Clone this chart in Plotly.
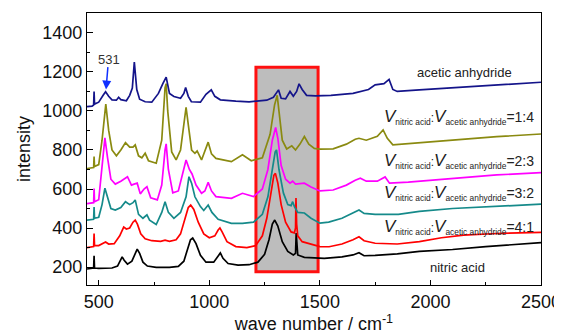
import plotly.graph_objects as go

# ---- data ----
black_x = [447,470,477,479,481,500,560,585,600,606,615,630,650,665,674,685,700,720,760,820,860,885,900,915,925,940,960,985,1020,1040,1050,1062,1085,1130,1180,1220,1250,1270,1285,1296,1310,1330,1355,1380,1390,1393,1396,1400,1430,1470,1520,1600,1650,1677,1700,1750,1850,1950,2100,2250,2400,2500]
black_y = [190,192,195,258,195,193,195,205,240,252,235,215,230,270,292,270,225,205,198,198,203,230,290,340,349,320,260,225,225,255,272,245,218,210,212,225,265,340,420,441,410,330,280,262,270,374,300,262,250,246,244,252,262,273,258,260,268,280,290,305,315,325]

red_x = [447,470,477,479,481,500,520,531,545,570,595,613,625,640,655,665,675,690,710,740,780,800,820,850,870,890,905,916,930,950,975,1000,1025,1040,1048,1058,1080,1120,1170,1210,1240,1260,1280,1292,1299,1310,1325,1345,1370,1385,1390,1392,1395,1400,1420,1460,1500,1542,1600,1650,1677,1700,1750,1850,1950,2050,2150,2300,2500]
red_y = [300,302,305,372,310,310,322,328,318,320,360,405,395,400,430,441,420,370,345,335,332,338,332,340,370,450,505,518,495,430,370,350,360,390,400,380,330,305,300,310,360,450,600,670,680,630,520,430,380,375,400,554,420,360,330,318,305,304,318,340,355,335,322,318,330,350,364,372,378]

teal_x = [447,470,477,479,481,500,515,528,540,555,575,600,621,640,655,665,680,700,718,730,760,785,800,815,840,870,895,908,920,935,960,975,995,1012,1040,1100,1150,1200,1240,1265,1285,1298,1304,1315,1335,1355,1370,1377,1385,1400,1430,1460,1500,1540,1600,1650,1677,1700,1750,1855,1950,2100,2300,2500]
teal_y = [440,442,445,508,450,455,520,604,560,500,492,505,535,520,530,544,470,450,467,440,418,480,535,480,450,480,560,663,630,560,510,490,518,480,445,424,424,430,470,560,700,790,800,700,580,520,515,535,510,480,477,450,425,430,450,480,492,475,470,470,485,500,510,522]

pink_x = [447,470,477,479,481,500,515,528,540,555,575,600,630,648,660,674,688,705,718,735,765,785,800,805,815,835,860,880,895,910,922,940,965,980,995,1010,1030,1100,1150,1200,1240,1265,1285,1300,1310,1325,1345,1365,1377,1390,1430,1460,1500,1560,1620,1660,1683,1710,1760,1795,1815,1900,2000,2150,2300,2500]
pink_y = [525,527,530,603,535,545,700,862,760,650,625,640,663,620,625,630,575,600,612,555,544,620,800,831,700,580,590,690,749,700,677,620,578,590,634,590,561,552,578,561,600,700,850,915,860,720,650,630,640,625,630,610,590,595,620,645,655,640,640,662,630,635,645,660,672,684]

olive_x = [447,470,477,479,481,500,515,532,545,560,580,600,621,640,655,665,680,695,710,725,760,785,800,805,812,830,850,870,885,895,905,920,935,945,965,980,995,1010,1030,1100,1150,1190,1240,1275,1295,1307,1315,1330,1350,1373,1390,1410,1430,1450,1475,1500,1560,1620,1660,1677,1710,1760,1786,1805,1830,1950,2100,2300,2500]
olive_y = [705,708,710,766,715,725,850,1035,900,800,770,800,838,815,815,826,770,760,783,745,732,850,1120,1140,1000,790,749,800,950,1019,930,800,783,795,749,790,840,780,757,740,775,745,760,880,1030,1080,990,850,805,821,800,830,869,830,808,804,806,830,855,860,850,870,903,860,826,835,850,868,882]

navy_x = [447,470,477,479,481,500,520,531,545,560,580,590,600,625,640,652,661,672,685,710,740,770,790,805,820,840,870,885,893,905,919,940,960,985,1009,1025,1050,1120,1180,1260,1290,1313,1325,1345,1365,1380,1395,1406,1420,1440,1480,1550,1650,1720,1750,1790,1813,1830,1850,1950,2100,2300,2500]
navy_y = [1022,1025,1030,1100,1035,1045,1080,1098,1075,1057,1055,1070,1058,1052,1080,1117,1250,1110,1060,1047,1045,1090,1140,1173,1090,1074,1065,1090,1120,1075,1047,1045,1045,1085,1108,1075,1057,1050,1047,1055,1070,1108,1065,1062,1100,1075,1100,1139,1110,1080,1077,1080,1090,1110,1134,1140,1162,1110,1100,1108,1118,1133,1147]

series_names = ["nitric acid", "4:1", "3:2", "2:3", "1:4", "acetic anhydride"]
series_colors = ["#000000", "#ff0000", "#158a8a", "#ff00ff", "#8a8a10", "#14148a"]
series_x = [black_x, red_x, teal_x, pink_x, olive_x, navy_x]
series_y = [black_y, red_y, teal_y, pink_y, olive_y, navy_y]

x_ticks = [500, 1000, 1500, 2000, 2500]
y_ticks = [200, 400, 600, 800, 1000, 1200, 1400]

box_x = [1211, 1492]
box_y = [176, 1224]

fig = go.Figure()
for name, col, xs, ys in zip(series_names, series_colors, series_x, series_y):
    fig.add_trace(go.Scatter(x=xs, y=ys, mode="lines", name=name,
                             line=dict(color=col, width=1.7), showlegend=False))

fig.add_shape(type="rect", x0=box_x[0], x1=box_x[1], y0=box_y[0], y1=box_y[1],
              xref="x", yref="y", fillcolor="#bdbdbd",
              line=dict(color="#ff1010", width=3), layer="below")

ann_font = dict(family="Liberation Sans, Arial, sans-serif", size=13, color="#222222")
fig.add_annotation(x=2153, y=1195, text="acetic anhydride", showarrow=False, font=ann_font)
fig.add_annotation(x=2124, y=197, text="nitric acid", showarrow=False, font=ann_font)

ratio_font = dict(family="Liberation Sans, Arial, sans-serif", size=12, color="#222222")
ratio_labels = ["1:4", "2:3", "3:2", "4:1"]
ratio_y = [970, 744, 577, 405]
for lab, yy in zip(ratio_labels, ratio_y):
    fig.add_annotation(x=2478, y=yy, xanchor="right",
                       text="<span style='font-size:17px'><i>V</i></span><sub>nitric acid</sub>:"
                            "<span style='font-size:17px'><i>V</i></span><sub>acetic anhydride</sub>"
                            "<span style='font-size:14px'>=" + lab + "</span>",
                       showarrow=False, font=ratio_font)

fig.add_annotation(x=547, y=1262, text="531", showarrow=False,
                   font=dict(family="Liberation Sans, Arial, sans-serif", size=13, color="#333333"))
fig.add_annotation(x=533, y=1110, ax=542, ay=1232, axref="x", ayref="y", xref="x", yref="y",
                   text="", showarrow=True, arrowhead=2, arrowsize=1.2, arrowwidth=1.5,
                   arrowcolor="#1030ff")

axis_font = dict(family="Liberation Sans, Arial, sans-serif", size=18, color="#111111")
fig.update_xaxes(range=[447, 2500], tickvals=x_ticks, ticks="inside", ticklen=5,
                 tickcolor="#000", showline=True, linecolor="#000", linewidth=1.2,
                 mirror=True, showgrid=False, zeroline=False, automargin=False,
                 minor=dict(tickvals=[750, 1250, 1750, 2250], ticks="inside", ticklen=3, tickcolor="#000"),
                 tickfont=axis_font,
                 title=dict(text="wave number / cm<sup>-1</sup>", font=axis_font, standoff=2))
fig.update_yaxes(range=[108, 1502], tickvals=y_ticks, ticks="inside", ticklen=6,
                 tickcolor="#000", showline=True, linecolor="#000", linewidth=1.2,
                 mirror=True, showgrid=False, zeroline=False, automargin=False,
                 minor=dict(dtick=100, tick0=100, ticks="inside", ticklen=3, tickcolor="#000"),
                 tickfont=axis_font,
                 title=dict(text="intensity", font=axis_font, standoff=6))

# page body adds an 8px offset; figure is sized so the plot area lands where the reference has it
fig.update_layout(width=554, height=328, margin=dict(l=79, r=21, t=5, b=51),
                  plot_bgcolor="white", paper_bgcolor="white")

fig.write_html("out.html")
